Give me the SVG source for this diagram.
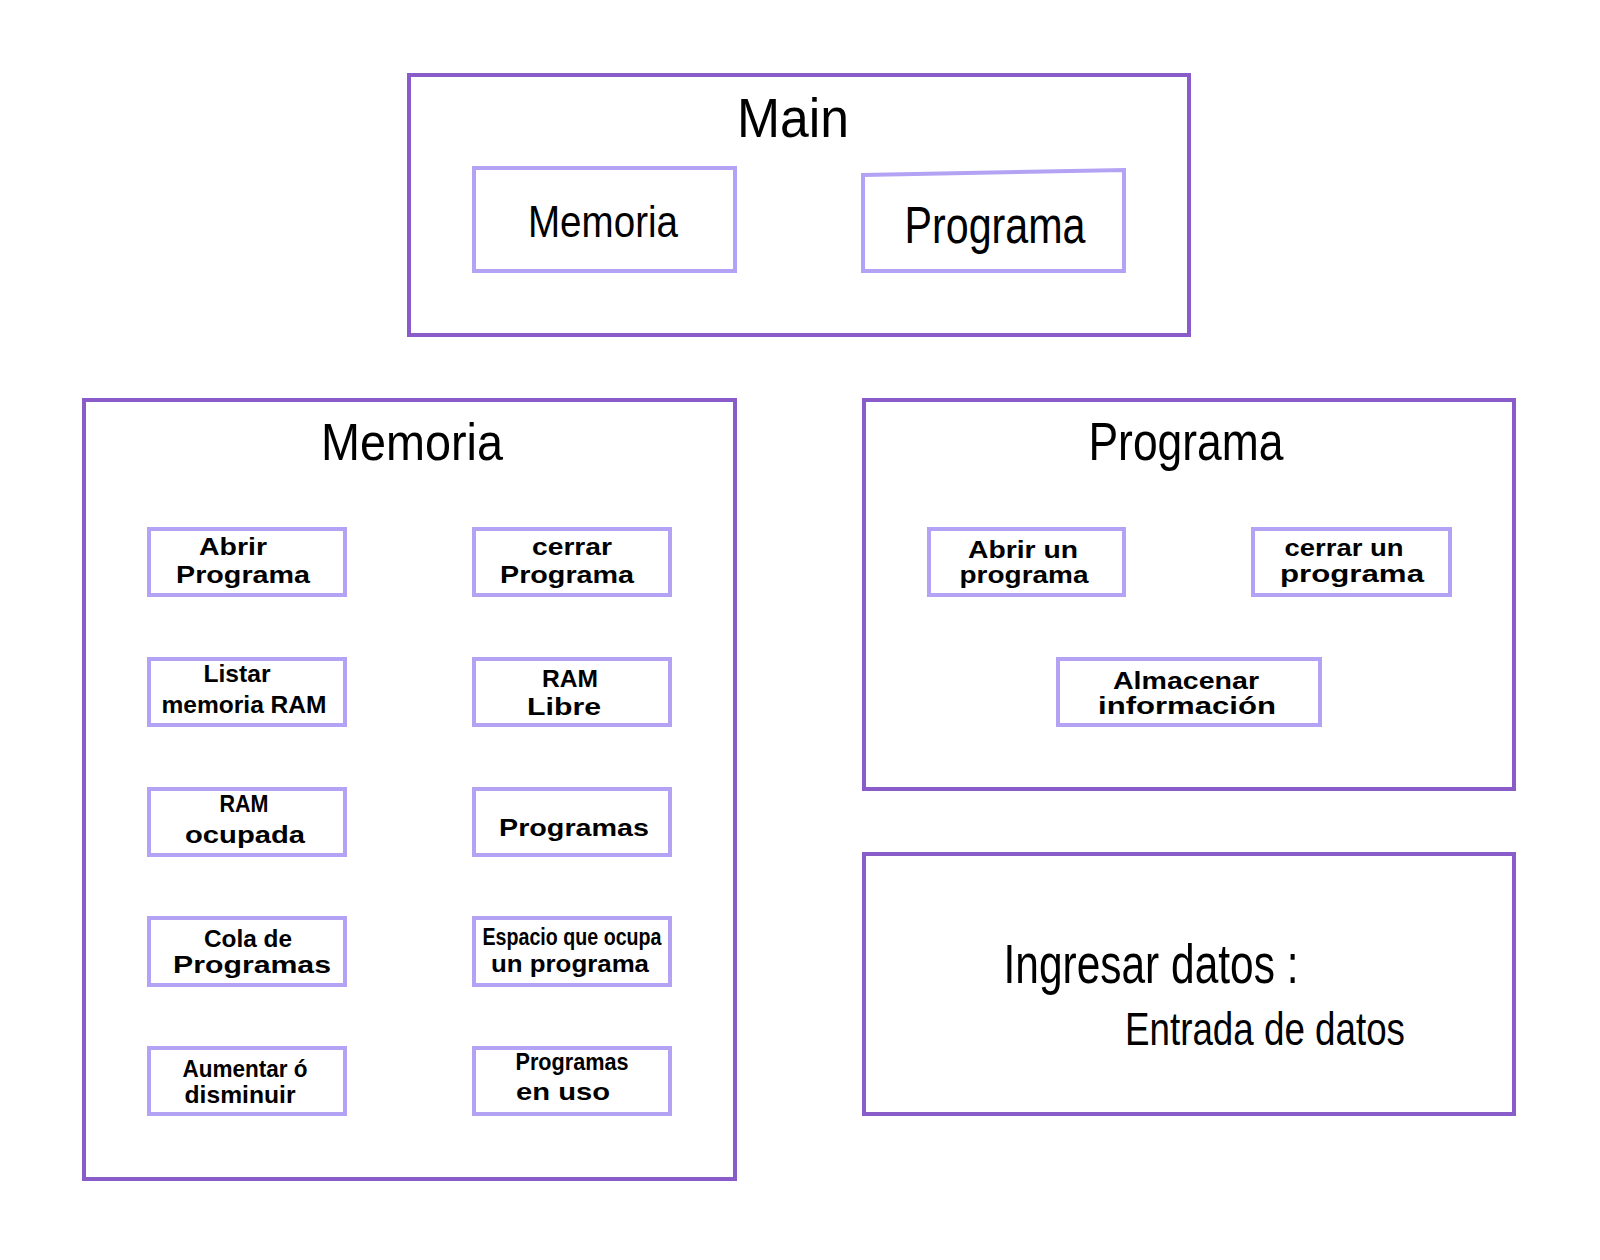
<svg xmlns="http://www.w3.org/2000/svg" width="1600" height="1260" viewBox="0 0 1600 1260">
<style>
.outer{fill:none;stroke:#8a5cc9;stroke-width:4}
.inner{fill:none;stroke:#b4a2f4;stroke-width:4}
text{font-family:"Liberation Sans","DejaVu Sans",sans-serif;fill:#000;text-anchor:middle}
.t{font-weight:normal}
.s{font-size:24px;font-weight:bold}
</style>
<rect width="1600" height="1260" fill="#fff"/>
<g id="main">
<rect class="outer" x="409" y="75" width="780" height="260"/>
<text class="t" x="793" y="137" font-size="56" textLength="112" lengthAdjust="spacingAndGlyphs">Main</text>
</g>
<g id="main-memoria">
<rect class="inner" x="474" y="168" width="261" height="103"/>
<text class="t" x="603" y="237" font-size="44" textLength="150" lengthAdjust="spacingAndGlyphs">Memoria</text>
</g>
<g id="main-programa">
<path class="inner" d="M863 175 L1124 170 L1124 271 L863 271 Z"/>
<text class="t" x="995" y="243" font-size="52" textLength="181" lengthAdjust="spacingAndGlyphs">Programa</text>
</g>
<g id="memoria">
<rect class="outer" x="84" y="400" width="651" height="779"/>
<text class="t" x="412" y="460" font-size="52" textLength="182" lengthAdjust="spacingAndGlyphs">Memoria</text>
</g>
<g id="abrir-programa">
<rect class="inner" x="149" y="529" width="196" height="66"/>
<text class="s" x="233" y="555" textLength="68" lengthAdjust="spacingAndGlyphs">Abrir</text>
<text class="s" x="243" y="583" textLength="134" lengthAdjust="spacingAndGlyphs">Programa</text>
</g>
<g id="cerrar-programa">
<rect class="inner" x="474" y="529" width="196" height="66"/>
<text class="s" x="572" y="555" textLength="80" lengthAdjust="spacingAndGlyphs">cerrar</text>
<text class="s" x="567" y="583" textLength="134" lengthAdjust="spacingAndGlyphs">Programa</text>
</g>
<g id="listar-memoria">
<rect class="inner" x="149" y="659" width="196" height="66"/>
<text class="s" x="237" y="682" textLength="67" lengthAdjust="spacingAndGlyphs">Listar</text>
<text class="s" x="244" y="713" textLength="165" lengthAdjust="spacingAndGlyphs">memoria RAM</text>
</g>
<g id="ram-libre">
<rect class="inner" x="474" y="659" width="196" height="66"/>
<text class="s" x="570" y="687" textLength="56" lengthAdjust="spacingAndGlyphs">RAM</text>
<text class="s" x="564" y="715" textLength="74" lengthAdjust="spacingAndGlyphs">Libre</text>
</g>
<g id="ram-ocupada">
<rect class="inner" x="149" y="789" width="196" height="66"/>
<text class="s" x="244" y="812" font-size="20" textLength="49" lengthAdjust="spacingAndGlyphs">RAM</text>
<text class="s" x="245" y="843" textLength="120" lengthAdjust="spacingAndGlyphs">ocupada</text>
</g>
<g id="programas">
<rect class="inner" x="474" y="789" width="196" height="66"/>
<text class="s" x="574" y="836" textLength="150" lengthAdjust="spacingAndGlyphs">Programas</text>
</g>
<g id="cola-programas">
<rect class="inner" x="149" y="918" width="196" height="67"/>
<text class="s" x="248" y="947" textLength="88" lengthAdjust="spacingAndGlyphs">Cola de</text>
<text class="s" x="252" y="973" textLength="158" lengthAdjust="spacingAndGlyphs">Programas</text>
</g>
<g id="espacio-programa">
<rect class="inner" x="474" y="918" width="196" height="67"/>
<text class="s" x="572" y="945" textLength="179" lengthAdjust="spacingAndGlyphs">Espacio que ocupa</text>
<text class="s" x="570" y="972" textLength="158" lengthAdjust="spacingAndGlyphs">un programa</text>
</g>
<g id="aumentar-disminuir">
<rect class="inner" x="149" y="1048" width="196" height="66"/>
<text class="s" x="245" y="1077" textLength="125" lengthAdjust="spacingAndGlyphs">Aumentar ó</text>
<text class="s" x="240" y="1103" textLength="111" lengthAdjust="spacingAndGlyphs">disminuir</text>
</g>
<g id="programas-uso">
<rect class="inner" x="474" y="1048" width="196" height="66"/>
<text class="s" x="572" y="1070" textLength="113" lengthAdjust="spacingAndGlyphs">Programas</text>
<text class="s" x="563" y="1100" textLength="94" lengthAdjust="spacingAndGlyphs">en  uso</text>
</g>
<g id="programa">
<rect class="outer" x="864" y="400" width="650" height="389"/>
<text class="t" x="1186" y="460" font-size="54" textLength="195" lengthAdjust="spacingAndGlyphs">Programa</text>
</g>
<g id="abrir-un-programa">
<rect class="inner" x="929" y="529" width="195" height="66"/>
<text class="s" x="1023" y="558" textLength="110" lengthAdjust="spacingAndGlyphs">Abrir un</text>
<text class="s" x="1024" y="583" textLength="129" lengthAdjust="spacingAndGlyphs">programa</text>
</g>
<g id="cerrar-un-programa">
<rect class="inner" x="1253" y="529" width="197" height="66"/>
<text class="s" x="1344" y="556" textLength="119" lengthAdjust="spacingAndGlyphs">cerrar un</text>
<text class="s" x="1352" y="582" textLength="144" lengthAdjust="spacingAndGlyphs">programa</text>
</g>
<g id="almacenar-informacion">
<rect class="inner" x="1058" y="659" width="262" height="66"/>
<text class="s" x="1186" y="689" textLength="146" lengthAdjust="spacingAndGlyphs">Almacenar</text>
<text class="s" x="1187" y="714" textLength="178" lengthAdjust="spacingAndGlyphs">información</text>
</g>
<g id="ingresar-datos">
<rect class="outer" x="864" y="854" width="650" height="260"/>
<text class="t" x="1151" y="983" font-size="56" textLength="295" lengthAdjust="spacingAndGlyphs">Ingresar datos :</text>
<text class="t" x="1265" y="1045" font-size="46" textLength="280" lengthAdjust="spacingAndGlyphs">Entrada de datos</text>
</g>
<g id="connectors"></g>
</svg>
